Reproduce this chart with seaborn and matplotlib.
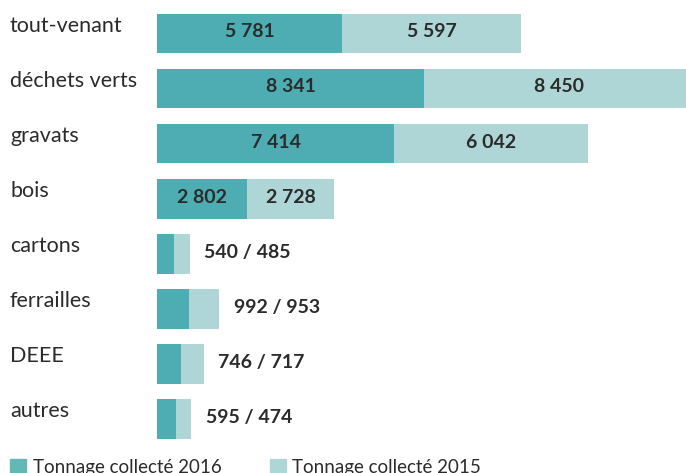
import pandas as pd
import matplotlib.pyplot as plt
import seaborn as sns
from matplotlib.patches import Patch
from matplotlib.transforms import blended_transform_factory

categories = ['tout-venant', 'déchets verts', 'gravats', 'bois',
              'cartons', 'ferrailles', 'DEEE', 'autres']
tonnage_2016 = [5781, 8341, 7414, 2802, 540, 992, 746, 595]
tonnage_2015 = [5597, 8450, 6042, 2728, 485, 953, 717, 474]

df = pd.DataFrame({'cat': categories, 'v2016': tonnage_2016, 'v2015': tonnage_2015})
df['total'] = df['v2016'] + df['v2015']

dark = '#4DADB3'
light = '#AED6D7'
txt = '#2b2b2b'

sns.set_style('white')
plt.rcParams['font.family'] = ['Lato', 'DejaVu Sans']

fig = plt.figure(figsize=(6.86, 4.73), dpi=100)
ax = fig.add_axes([157 / 686, 0, 529 / 686, 1])

# stacked look: full total in light colour, 2016 part drawn on top
sns.barplot(data=df, x='total', y='cat', color=light, width=0.72, saturation=1,
            linewidth=0, ax=ax)
sns.barplot(data=df, x='v2016', y='cat', color=dark, width=0.72, saturation=1,
            linewidth=0, ax=ax)

ax.set_xlim(0, 529 / 0.03203)
ax.set_ylim(7 + 54 / 55, -33.5 / 55)
ax.set_xticks([])
ax.set_yticks([])
ax.set_xlabel('')
ax.set_ylabel('')
sns.despine(ax=ax, left=True, bottom=True)

fmt = lambda v: f'{v:,}'.replace(',', ' ')
trans = blended_transform_factory(ax.transAxes, ax.transData)
for i, row in df.iterrows():
    ax.text(-147 / 529, i - 0.14, row['cat'], transform=trans, ha='left', va='center',
            fontsize=15.5, color=txt)
    if row['total'] > 2000:
        ax.text(row['v2016'] / 2, i - 0.03, fmt(row['v2016']), ha='center', va='center',
                fontsize=14, fontweight='bold', color=txt)
        ax.text(row['v2016'] + row['v2015'] / 2, i - 0.03, fmt(row['v2015']), ha='center',
                va='center', fontsize=14, fontweight='bold', color=txt)
    else:
        ax.text(row['total'] + 450, i - 0.03, f"{row['v2016']} / {row['v2015']}", ha='left',
                va='center', fontsize=14, fontweight='bold', color=txt)

handles = [Patch(color='#62B8B4'), Patch(color=light)]
fig.legend(handles, ['Tonnage collecté 2016', 'Tonnage collecté 2015'], loc='upper left',
           bbox_to_anchor=(10 / 686, 1 - 459 / 473), ncol=2, frameon=False, fontsize=13.5,
           handlelength=0.85, handleheight=0.85, handletextpad=0.37, columnspacing=2.56,
           borderpad=0, borderaxespad=0, labelcolor=txt)

fig.savefig('out.png', dpi=100)
